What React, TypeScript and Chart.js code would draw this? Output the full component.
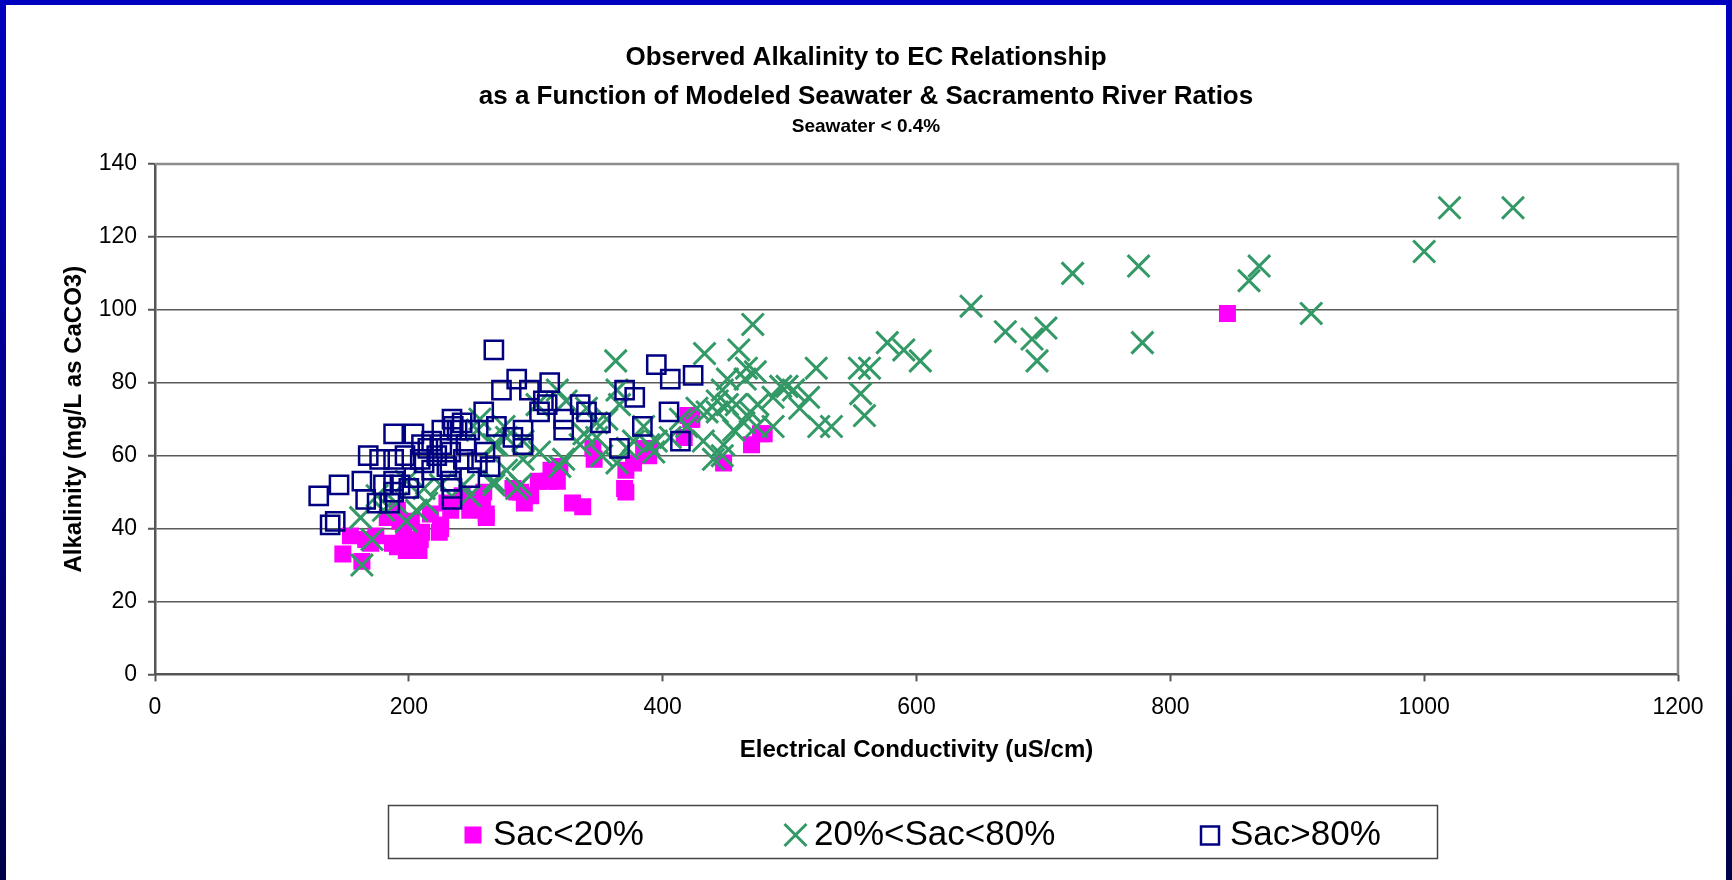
import React, { useEffect, useRef } from "react";
import { Chart, registerables } from "chart.js";

Chart.register(...registerables);

const FONT = "'Liberation Sans', Arial, Helvetica, sans-serif";

const titleLines = [
  "Observed Alkalinity to EC Relationship",
  "as a Function of Modeled Seawater & Sacramento River Ratios",
];
const subTitle = "Seawater < 0.4%";
const xTitle = "Electrical Conductivity (uS/cm)";
const yTitle = "Alkalinity (mg/L as CaCO3)";
const seriesNames = ["Sac<20%", "20%<Sac<80%", "Sac>80%"];

const xTicks = [0, 200, 400, 600, 800, 1000, 1200];
const yTicks = [0, 20, 40, 60, 80, 100, 120, 140];

// Sac<20%
const lowEC = [148, 163, 154, 166, 170, 174, 187, 191, 198, 208, 209, 202, 191, 183, 217, 224, 225, 233, 248, 252, 258, 261, 230, 242, 285, 291, 296, 302, 310, 317, 329, 337, 346, 345, 370, 371, 371, 377, 389, 390, 417, 423, 420, 448, 470, 480, 845, 312, 282, 259, 210, 196, 193, 225, 255, 261, 288, 319, 385, 422, 477];
const lowAlk = [33, 31, 38, 37, 36, 38, 36, 35, 34, 34, 37, 42, 45, 43, 44, 39, 40, 45, 45, 48, 46, 44, 47, 49, 50, 47, 49, 53, 53, 53, 47, 46, 59, 62, 51, 50, 56, 58, 60, 62, 65, 70, 71, 58, 63, 66, 99, 56, 51, 50, 39, 38, 42, 41, 48, 43, 50, 57, 62, 70, 66];

// 20%<Sac<80%
const midEC = [1020, 1070, 1000, 911, 870, 862, 775, 778, 723, 702, 691, 695, 670, 643, 603, 590, 577, 563, 555, 556, 559, 521, 523, 533, 515, 508, 493, 498, 503, 487, 487, 471, 363, 433, 460, 466, 473, 465, 447, 451, 443, 427, 435, 443, 451, 458, 464, 456, 469, 475, 474, 414, 419, 406, 395, 448, 447, 432, 364, 366, 356, 385, 377, 389, 372, 348, 338, 335, 322, 319, 303, 288, 267, 269, 277, 290, 301, 317, 324, 340, 348, 163, 171, 162, 198, 206, 214, 212, 225, 243, 248, 267, 277, 285, 290, 254, 256, 267, 275, 190, 180, 175, 198, 364, 393, 440, 352];
const midAlk = [128, 128, 116, 99, 112, 108, 112, 91, 110, 95, 92, 86, 94, 101, 86, 89, 91, 84, 84, 77, 71, 84, 68, 68, 76, 73, 79, 79, 78, 68, 76, 96, 86, 88, 89, 84, 83, 81, 78, 81, 75, 73, 72, 72, 74, 74, 69, 67, 72, 74, 68, 70, 68, 65, 64, 63, 60, 64, 78, 74, 70, 68, 64, 63, 62, 65, 66, 63, 59, 57, 61, 52, 52, 63, 65, 64, 74, 78, 75, 73, 69, 30, 37, 43, 42, 45, 47, 51, 52, 52, 49, 53, 56, 51, 59, 67, 70, 63, 68, 47, 45, 49, 53, 58, 61, 59, 60];

// Sac>80%
const highEC = [267, 285, 273, 295, 311, 306, 309, 303, 259, 322, 335, 340, 322, 351, 370, 378, 395, 406, 424, 405, 384, 366, 414, 282, 290, 264, 238, 234, 248, 188, 204, 242, 235, 226, 210, 218, 269, 168, 177, 188, 197, 209, 222, 233, 243, 254, 230, 218, 212, 233, 248, 204, 188, 180, 163, 145, 129, 166, 175, 188, 193, 234, 234, 138, 142, 185, 200, 215, 226, 245, 260, 290];
const highAlk = [89, 81, 78, 78, 80, 75, 74, 72, 72, 70, 74, 72, 67, 69, 78, 76, 85, 81, 82, 72, 68, 62, 64, 65, 63, 57, 67, 70, 67, 66, 66, 69, 68, 67, 63, 64, 68, 60, 59, 59, 60, 59, 60, 61, 59, 58, 57, 56, 58, 53, 54, 54, 53, 52, 53, 52, 49, 48, 47, 50, 52, 48, 51, 41, 42, 47, 51, 62, 63, 63, 61, 67];

const COLORS = { low: "#FF00FF", mid: "#339966", high: "#000080" };

const toPoints = (xs: number[], ys: number[]) => xs.map((x, i) => ({ x, y: ys[i] }));

const decorPlugin = {
  id: "decor",
  beforeDatasetsDraw(chart: any) {
    const { ctx, chartArea } = chart;
    ctx.save();
    ctx.strokeStyle = "#8c8c8c";
    ctx.lineWidth = 2.5;
    ctx.beginPath();
    ctx.moveTo(chartArea.left, chartArea.top);
    ctx.lineTo(chartArea.right, chartArea.top);
    ctx.lineTo(chartArea.right, chartArea.bottom);
    ctx.stroke();
    ctx.restore();
  },
  afterDraw(chart: any) {
    const { ctx } = chart;
    ctx.save();
    ctx.fillStyle = "#000";
    ctx.textAlign = "center";
    ctx.textBaseline = "alphabetic";
    ctx.font = `bold 26px ${FONT}`;
    ctx.fillText(titleLines[0], 860, 60);
    ctx.fillText(titleLines[1], 860, 98.5);
    ctx.font = `bold 19px ${FONT}`;
    ctx.fillText(subTitle, 860, 126.5);

    // legend box
    ctx.strokeStyle = "#444";
    ctx.lineWidth = 1.5;
    ctx.strokeRect(382.5, 800.5, 1049, 53);

    ctx.font = `35px ${FONT}`;
    ctx.textAlign = "left";
    // magenta square
    ctx.fillStyle = COLORS.low;
    ctx.fillRect(467 - 8.5, 830 - 8.5, 17, 17);
    ctx.fillStyle = "#000";
    ctx.fillText(seriesNames[0], 487, 840);
    // green X
    ctx.strokeStyle = COLORS.mid;
    ctx.lineWidth = 3;
    ctx.beginPath();
    ctx.moveTo(789.5 - 11, 830 - 11);
    ctx.lineTo(789.5 + 11, 830 + 11);
    ctx.moveTo(789.5 + 11, 830 - 11);
    ctx.lineTo(789.5 - 11, 830 + 11);
    ctx.stroke();
    ctx.fillText(seriesNames[1], 808, 840);
    // blue open square
    ctx.strokeStyle = COLORS.high;
    ctx.lineWidth = 2.5;
    ctx.strokeRect(1204 - 9, 830.5 - 9, 18, 18);
    ctx.fillText(seriesNames[2], 1224, 840);
    ctx.restore();
  },
};

export default function App() {
  const ref = useRef<HTMLCanvasElement>(null);

  useEffect(() => {
    document.body.style.margin = "0";
    const canvas = ref.current;
    if (!canvas) return;
    const chart = new Chart(canvas, {
      type: "scatter",
      data: {
        datasets: [
          {
            label: seriesNames[0],
            data: toPoints(lowEC, lowAlk),
            pointStyle: "rect",
            pointRadius: 12,
            backgroundColor: COLORS.low,
            borderColor: COLORS.low,
            borderWidth: 0,
            order: 3,
          },
          {
            label: seriesNames[1],
            data: toPoints(midEC, midAlk),
            pointStyle: "crossRot",
            pointRadius: 15.5,
            backgroundColor: COLORS.mid,
            borderColor: COLORS.mid,
            borderWidth: 3,
            order: 2,
          },
          {
            label: seriesNames[2],
            data: toPoints(highEC, highAlk),
            pointStyle: "rect",
            pointRadius: 12.9,
            backgroundColor: "rgba(0,0,0,0)",
            borderColor: COLORS.high,
            borderWidth: 2.5,
            order: 1,
          },
        ],
      },
      options: {
        responsive: false,
        devicePixelRatio: 1,
        animation: false,
        events: [],
        layout: { padding: { left: 0, right: 48, top: 159, bottom: 115.6 } },
        plugins: {
          legend: { display: false },
          title: { display: false },
          tooltip: { enabled: false },
        },
        scales: {
          x: {
            type: "linear",
            min: 0,
            max: 1200,
            afterBuildTicks: (s: any) => {
              s.ticks = xTicks.map((v) => ({ value: v }));
            },
            afterFit: (s: any) => {
              s.height = 90;
            },
            ticks: {
              font: { family: FONT, size: 23 },
              color: "#000",
              padding: 12,
              maxRotation: 0,
              autoSkip: false,
              callback: (v: any) => String(v),
            },
            grid: {
              drawOnChartArea: false,
              drawTicks: true,
              tickLength: 7,
              tickColor: "#555",
              tickWidth: 2,
            },
            border: { display: true, color: "#555", width: 2 },
            title: {
              display: true,
              text: xTitle,
              color: "#000",
              font: { family: FONT, size: 24, weight: "bold" },
              padding: { top: 0, bottom: 0 },
            },
          },
          y: {
            type: "linear",
            min: 0,
            max: 140,
            afterBuildTicks: (s: any) => {
              s.ticks = yTicks.map((v) => ({ value: v }));
            },
            afterFit: (s: any) => {
              s.width = 149;
            },
            ticks: {
              font: { family: FONT, size: 23 },
              color: "#000",
              padding: 11,
              autoSkip: false,
              callback: (v: any) => String(v),
            },
            grid: {
              color: "#5a5a5a",
              lineWidth: 1.5,
              drawTicks: true,
              tickLength: 7,
              tickColor: "#555",
              tickWidth: 2,
            },
            border: { display: true, color: "#555", width: 2.5 },
            title: {
              display: true,
              text: yTitle,
              color: "#000",
              font: { family: FONT, size: 24, weight: "bold" },
              padding: { top: 54, bottom: 0 },
            },
          },
        },
      },
      plugins: [decorPlugin],
    } as any);
    return () => chart.destroy();
  }, []);

  return (
    <div
      style={{
        position: "fixed",
        left: 0,
        top: 0,
        width: 1732,
        height: 880,
        background: "linear-gradient(to bottom, #0000C0 0%, #00008a 50%, #000048 100%)",
      }}
    >
      <div
        style={{
          position: "absolute",
          left: 6,
          top: 5,
          width: 1720,
          height: 875,
          background: "#fff",
        }}
      >
        <canvas ref={ref} width={1720} height={875} style={{ display: "block", width: 1720, height: 875 }} />
      </div>
    </div>
  );
}
